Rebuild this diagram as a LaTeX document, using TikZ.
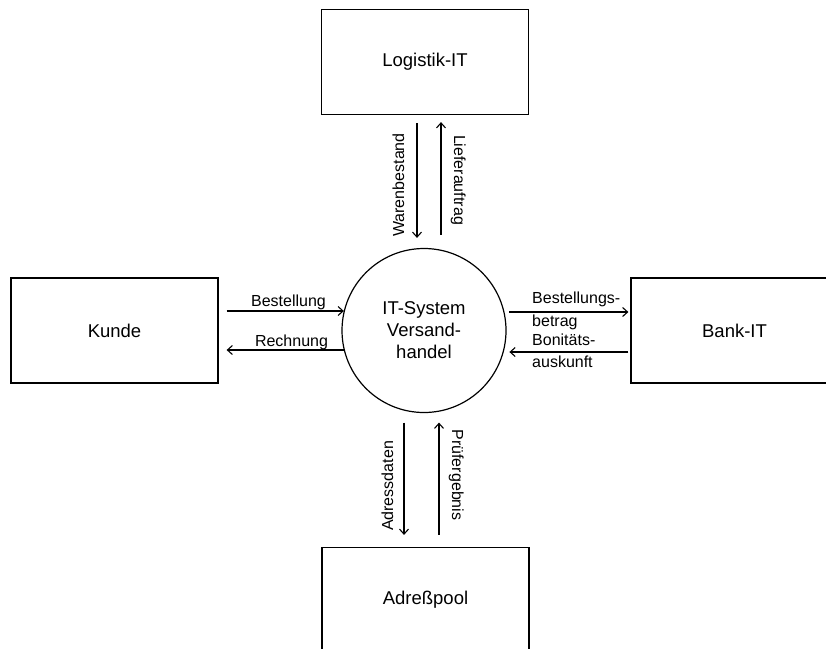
\documentclass[tikz,border=0pt]{standalone}
\usepackage{fontspec}
\setmainfont{Liberation Sans}
\usetikzlibrary{arrows.meta,calc}
\begin{document}
\begin{tikzpicture}[x=1pt,y=-1pt,
  box/.style={draw,line width=1.2pt,minimum width=207pt,minimum height=105pt,inner sep=0pt,
    font=\fontsize{18.5}{22}\selectfont},
  proc/.style={draw,circle,line width=1.2pt,minimum size=164pt,inner sep=0pt,align=center,
    font=\fontsize{18.5}{22}\selectfont},
  flow/.style={line width=1.1pt,-{Straight Barb[length=5pt,width=9pt]}},
  lbl/.style={inner sep=0pt,font=\fontsize{16}{20}\selectfont},
]
\useasboundingbox (0,0) rectangle (826,648);

% external entities and the central process
\node[box] (log)   at (425,62)      {Logistik-IT};
\node[box] (kunde) at (114.5,330.5) {Kunde};
\node[box] (bank)  at (734.5,330.5) {Bank-IT};
\node[box] (pool)  at (425.5,600)   {Adreßpool};
\node[proc] (sys)  at (424,330.5)   {IT-System\\Versand-\\handel};

% Logistik-IT <-> system
\draw[flow] ($(log.south)+(-8,8)$) -- ($(sys.north)+(-7,-10)$);
\draw[flow] ($(sys.north)+(17,-13)$) -- ($(log.south)+(16,7)$);
\node[lbl,rotate=90,anchor=base]  at (404,185) {Warenbestand};
\node[lbl,rotate=-90,anchor=base] at (454,180) {Lieferauftrag};

% Kunde <-> system
\coordinate (b0) at ($(kunde.east)+(8,-19.5)$);
\coordinate (r0) at ($(kunde.east)+(8,19.5)$);
\draw[flow] (b0) -- (b0 -| sys.166);
\draw[flow] (r0 -| sys.194) -- (r0);
\node[lbl,anchor=base] at (288.5,306.5) {Bestellung};
\node[lbl,anchor=base] at (291.5,346.7) {Rechnung};

% system <-> Bank-IT
\draw[flow] ($(bank.west)+(-121,-18.5)$) -- ($(bank.west)+(-2,-18.5)$);
\draw[flow] ($(bank.west)+(-2,21.5)$) -- ($(bank.west)+(-121,21.5)$);
\node[lbl,anchor=base west] at (532,303.5) {Bestellungs-};
\node[lbl,anchor=base west] at (532,326.5) {betrag};
\node[lbl,anchor=base west] at (532,345)   {Bonitäts-};
\node[lbl,anchor=base west] at (532,367)   {auskunft};

% system <-> Adreßpool
\draw[flow] ($(sys.south)+(-20,9.5)$) -- ($(pool.north)+(-21.5,-12)$);
\draw[flow] ($(pool.north)+(13.5,-12)$) -- ($(sys.south)+(15,9.5)$);
\node[lbl,rotate=90,anchor=base]  at (393,486) {Adressdaten};
\node[lbl,rotate=-90,anchor=base] at (452,475) {Prüfergebnis};
\end{tikzpicture}
\end{document}
